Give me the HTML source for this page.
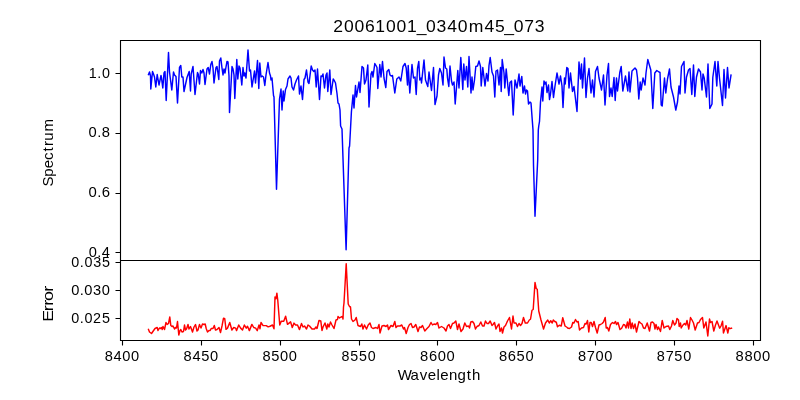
<!DOCTYPE html><html><head><meta charset="utf-8"><style>html,body{margin:0;padding:0;background:#fff;width:800px;height:400px;overflow:hidden}</style></head><body><svg width="800" height="400" viewBox="0 0 800 400" style="display:block;will-change:transform"><rect width="800" height="400" fill="#fff"/><g font-family='"Liberation Sans", sans-serif' fill="#000"><defs><clipPath id="c1"><rect x="120" y="40" width="640" height="220"/></clipPath><clipPath id="c2"><rect x="120" y="260" width="640" height="80"/></clipPath></defs><path clip-path="url(#c1)" d="M148.50,74.50 L149.50,72.00 L150.50,76.00 L150.80,89.00 L152.50,71.50 L153.50,74.00 L154.50,77.00 L155.80,87.00 L157.20,74.50 L159.00,85.00 L161.00,75.50 L161.50,78.00 L162.80,88.00 L164.00,73.00 L165.00,71.50 L166.20,100.50 L168.50,52.50 L169.50,72.00 L171.80,90.00 L173.50,72.00 L174.50,75.00 L176.00,76.50 L177.50,103.00 L179.50,67.50 L180.80,65.50 L181.80,77.00 L183.00,77.00 L184.00,91.50 L187.00,77.50 L189.20,71.50 L190.50,91.00 L191.20,74.00 L193.00,66.50 L195.00,94.50 L197.50,72.50 L198.20,74.00 L199.50,84.00 L200.50,70.50 L201.80,73.00 L203.00,69.50 L204.00,73.00 L205.00,84.50 L207.00,69.00 L208.20,67.50 L209.50,74.00 L210.80,64.50 L212.00,61.50 L213.00,68.00 L214.00,83.00 L216.00,67.50 L217.00,66.50 L217.80,72.00 L218.80,79.50 L219.50,61.00 L220.80,58.00 L222.00,68.00 L223.00,75.00 L224.00,69.00 L225.00,73.00 L226.00,67.00 L227.00,61.50 L228.00,62.00 L229.00,76.00 L229.50,112.50 L232.00,66.50 L233.00,69.00 L234.00,75.00 L234.80,98.50 L236.80,59.50 L237.80,79.00 L239.00,66.00 L240.00,68.00 L241.80,85.00 L243.00,67.50 L244.00,76.00 L244.80,73.00 L246.00,78.00 L248.00,50.00 L249.50,71.00 L250.50,70.00 L252.00,87.00 L254.50,71.00 L255.50,83.00 L257.50,60.50 L258.80,88.50 L259.80,63.00 L261.00,77.00 L262.20,76.00 L263.50,77.00 L264.80,85.50 L266.00,75.00 L268.00,62.50 L269.50,73.00 L270.50,76.00 L271.00,80.00 L272.00,78.00 L273.50,95.50 L274.00,97.00 L276.50,189.20 L279.50,99.00 L281.00,89.00 L282.00,110.00 L283.20,91.00 L284.00,101.00 L285.50,89.50 L287.00,86.00 L288.00,79.00 L290.00,76.00 L291.00,78.00 L292.00,87.00 L293.50,90.00 L295.00,84.00 L296.50,80.00 L298.50,76.00 L299.50,94.00 L301.00,86.00 L302.50,99.50 L304.00,79.50 L305.00,78.00 L306.50,70.00 L308.00,82.00 L309.00,83.50 L311.20,66.00 L312.50,70.00 L313.80,71.50 L315.00,70.00 L316.20,87.00 L317.50,69.00 L319.50,99.50 L321.00,76.00 L322.00,76.50 L323.00,74.00 L324.50,88.00 L326.00,75.00 L327.00,73.00 L327.80,91.50 L329.80,70.00 L331.00,94.50 L333.20,79.00 L334.50,81.00 L335.50,83.00 L337.00,93.50 L338.00,103.00 L339.00,104.00 L340.00,110.00 L340.60,126.00 L342.00,129.00 L346.10,249.80 L349.00,148.00 L349.60,146.00 L351.40,112.00 L353.00,95.00 L354.00,108.00 L355.50,85.50 L356.50,97.00 L359.00,82.00 L360.00,92.50 L362.00,66.50 L363.50,68.00 L364.50,84.00 L366.00,80.00 L367.80,65.00 L369.00,107.00 L371.00,74.00 L372.00,71.50 L373.00,77.00 L374.80,63.50 L376.00,65.50 L377.00,67.50 L377.80,88.50 L379.80,64.50 L381.00,77.00 L382.50,61.50 L384.00,78.00 L385.80,87.50 L387.00,71.50 L388.80,69.50 L390.00,75.00 L391.20,76.00 L392.50,75.50 L394.80,93.00 L396.80,79.00 L399.00,77.00 L400.80,81.00 L403.00,66.50 L405.00,63.50 L406.20,68.00 L407.50,85.00 L408.20,65.50 L409.80,93.00 L412.00,64.50 L413.50,78.00 L415.00,77.00 L416.20,94.50 L417.50,68.50 L418.80,61.50 L419.80,80.00 L421.00,78.00 L421.50,83.00 L424.00,60.00 L425.50,80.00 L427.80,86.50 L429.00,72.00 L431.50,90.50 L433.50,67.50 L435.00,104.50 L437.00,96.00 L438.50,75.00 L439.80,68.50 L441.50,73.00 L443.00,85.00 L444.00,57.00 L445.50,68.00 L446.80,69.00 L447.50,78.00 L448.80,86.50 L450.00,66.00 L451.50,81.00 L452.50,85.00 L454.00,82.00 L455.20,104.00 L457.80,70.50 L459.00,88.00 L460.80,57.50 L462.80,89.50 L463.80,64.00 L465.00,80.00 L466.50,66.50 L467.80,87.00 L469.00,56.50 L471.00,93.00 L472.00,77.00 L473.00,90.00 L474.50,80.00 L475.80,66.50 L477.50,66.00 L479.00,61.00 L480.50,66.50 L481.20,86.00 L482.80,67.50 L485.00,86.00 L486.50,73.50 L488.00,81.00 L489.00,65.50 L490.20,57.50 L492.00,72.00 L493.50,76.00 L494.80,97.00 L496.00,71.00 L497.50,70.00 L499.00,85.00 L500.50,67.50 L501.20,91.50 L502.20,59.50 L504.00,73.00 L504.80,88.00 L506.20,69.00 L508.80,95.50 L510.00,82.50 L511.50,81.00 L513.20,115.00 L515.00,80.00 L517.00,88.00 L519.00,74.00 L520.00,86.00 L521.80,76.50 L523.00,93.00 L524.50,86.00 L525.50,94.00 L526.50,90.00 L527.50,91.00 L528.50,104.00 L530.00,102.00 L531.00,103.00 L533.00,130.00 L533.50,165.00 L535.00,216.25 L537.70,160.00 L538.30,130.00 L538.75,126.00 L539.50,121.50 L540.50,102.00 L542.00,87.00 L542.80,101.00 L544.00,81.00 L545.00,84.00 L546.00,82.00 L547.00,92.50 L548.50,85.00 L549.50,99.50 L550.50,94.00 L552.00,81.50 L553.50,97.50 L555.00,86.00 L557.00,73.00 L559.00,84.00 L560.50,76.00 L562.00,86.00 L563.00,107.50 L564.50,78.00 L565.20,84.00 L566.80,67.50 L568.00,68.50 L569.00,88.00 L570.50,73.00 L572.50,91.50 L574.00,86.50 L577.00,111.50 L579.00,62.00 L580.50,79.00 L581.50,64.00 L582.50,88.00 L584.50,58.00 L586.00,97.50 L587.50,78.00 L589.00,68.50 L590.00,81.00 L591.00,93.00 L592.50,80.00 L594.00,97.00 L595.50,71.50 L597.50,66.50 L599.00,78.00 L600.50,85.00 L601.50,90.00 L603.50,75.00 L605.00,105.00 L607.00,75.00 L608.50,63.50 L609.50,96.50 L611.00,88.00 L612.20,96.50 L614.00,77.50 L615.20,100.50 L616.50,78.00 L617.50,91.00 L619.80,72.50 L621.20,66.50 L622.80,91.00 L625.50,76.00 L627.80,91.00 L629.00,72.00 L630.00,92.00 L632.00,71.00 L635.00,68.00 L636.50,70.00 L637.50,78.00 L638.80,99.00 L640.20,82.00 L641.20,90.00 L643.00,78.00 L645.00,85.00 L646.00,73.00 L647.80,59.50 L649.50,65.50 L650.80,70.00 L652.80,108.50 L654.80,73.00 L656.80,70.50 L659.00,72.00 L660.00,72.50 L661.20,105.00 L662.20,106.00 L664.50,78.00 L665.80,93.00 L667.50,79.00 L669.50,69.00 L671.00,87.00 L673.50,97.00 L675.80,110.00 L677.50,102.00 L679.00,86.00 L680.00,94.00 L681.50,66.50 L684.00,61.50 L685.00,93.00 L686.50,77.00 L688.50,70.00 L690.00,68.50 L691.80,94.50 L693.50,65.00 L694.80,96.50 L696.50,77.00 L698.50,69.00 L700.50,72.00 L702.00,90.00 L703.00,74.00 L704.20,78.00 L706.50,97.00 L708.00,64.00 L709.80,108.50 L712.00,104.00 L712.80,77.50 L715.00,61.50 L716.80,86.00 L718.00,61.50 L719.50,78.00 L722.50,105.50 L724.00,69.50 L725.50,98.00 L727.50,67.50 L729.00,88.00 L731.00,75.00" fill="none" stroke="#0000ff" stroke-width="1.45" stroke-linejoin="round" stroke-linecap="square"/><path clip-path="url(#c2)" d="M148.50,329.50 L149.50,332.00 L151.50,333.50 L155.00,328.50 L157.20,327.50 L158.00,330.50 L159.50,328.00 L160.50,328.50 L161.50,327.50 L162.20,329.50 L163.00,326.50 L164.50,329.50 L166.00,322.50 L167.20,324.50 L168.50,323.50 L169.80,317.00 L170.80,325.50 L172.00,326.50 L173.00,326.00 L174.50,329.00 L175.50,327.50 L176.50,328.00 L177.50,321.50 L178.80,335.00 L180.00,330.50 L180.80,329.50 L182.00,332.00 L183.50,331.50 L184.50,325.00 L185.50,330.00 L186.50,329.00 L188.00,324.50 L189.00,329.00 L190.50,326.50 L192.50,332.00 L194.00,327.00 L195.50,324.50 L197.00,331.00 L198.00,330.00 L199.50,324.50 L201.00,328.00 L202.50,324.00 L204.00,324.50 L205.20,324.00 L206.20,328.50 L207.50,332.00 L209.00,330.50 L210.20,330.50 L211.20,328.50 L213.00,328.50 L214.30,325.50 L215.50,330.00 L217.00,329.50 L219.00,327.50 L220.50,332.50 L222.00,326.00 L223.50,318.12 L224.75,318.75 L226.00,329.38 L227.50,328.12 L229.75,322.50 L231.88,330.00 L233.75,327.50 L235.62,328.12 L236.50,330.62 L238.75,325.00 L240.62,328.12 L242.50,330.00 L244.38,325.00 L246.25,328.12 L247.50,326.25 L249.38,330.62 L251.88,324.38 L253.75,327.50 L255.62,328.12 L257.25,330.62 L259.00,325.00 L260.00,328.75 L261.00,322.50 L263.12,325.62 L266.25,325.62 L268.12,326.88 L270.00,326.25 L272.50,325.00 L274.00,328.75 L275.00,296.88 L276.00,298.75 L276.88,293.12 L277.75,300.00 L279.75,325.00 L281.25,321.25 L283.75,321.25 L285.62,316.25 L287.50,324.38 L290.62,321.88 L292.25,327.50 L294.00,323.12 L295.62,325.00 L297.50,325.00 L299.38,329.38 L299.50,329.50 L301.50,323.50 L303.00,327.00 L304.50,326.00 L306.50,329.00 L308.00,325.00 L309.50,326.00 L312.00,329.00 L314.50,329.00 L316.00,327.00 L317.00,328.50 L319.00,320.50 L320.80,321.00 L322.00,330.50 L323.00,327.00 L325.00,323.00 L326.80,329.00 L327.80,324.00 L329.00,327.00 L330.50,322.00 L332.00,325.00 L334.00,328.50 L336.00,320.00 L337.50,319.50 L338.00,316.50 L339.50,318.00 L341.00,317.00 L342.50,316.50 L343.00,319.00 L343.50,307.00 L344.00,303.00 L346.20,263.70 L348.20,304.00 L349.50,306.50 L350.50,307.00 L351.50,319.00 L353.00,321.50 L355.00,320.00 L356.20,317.50 L358.00,325.50 L360.50,326.50 L361.80,324.00 L363.00,329.00 L364.50,325.00 L366.50,329.00 L368.20,325.00 L370.00,323.00 L371.50,327.50 L373.00,328.50 L374.50,328.00 L376.00,327.50 L377.50,328.50 L379.00,324.50 L380.00,333.00 L382.00,326.00 L384.00,325.50 L386.00,326.50 L387.50,325.00 L388.50,329.50 L391.00,325.50 L393.00,326.50 L394.80,321.50 L396.00,327.50 L397.50,326.00 L400.00,326.00 L401.80,325.00 L403.50,329.00 L404.50,327.50 L406.20,333.50 L408.00,327.50 L409.50,324.50 L411.00,323.50 L412.50,327.50 L414.00,327.00 L415.80,324.50 L418.00,331.50 L419.50,327.00 L421.00,327.50 L422.50,325.50 L424.80,331.00 L427.00,328.50 L429.00,326.50 L431.00,322.50 L432.50,325.00 L434.00,324.00 L435.80,324.50 L437.50,322.50 L439.00,328.00 L441.50,326.50 L444.00,328.00 L446.00,331.00 L447.50,326.00 L449.00,324.50 L450.50,328.50 L452.50,323.50 L454.00,323.00 L455.80,321.00 L457.50,329.50 L459.00,324.00 L461.00,331.50 L463.00,329.00 L464.80,323.00 L466.50,326.50 L468.50,326.00 L469.50,328.00 L470.80,322.00 L472.50,321.50 L474.00,323.50 L475.50,329.00 L477.00,326.50 L479.00,325.50 L480.80,322.00 L482.50,326.00 L484.00,326.00 L485.50,321.00 L487.00,323.50 L488.50,323.50 L490.20,321.00 L492.00,325.50 L493.00,324.50 L494.50,322.50 L496.00,329.00 L497.50,326.00 L499.00,324.00 L500.00,331.50 L501.50,328.00 L502.50,333.00 L504.00,327.00 L505.50,325.50 L507.50,321.00 L509.50,317.50 L511.50,329.00 L513.00,316.00 L514.00,323.00 L516.00,323.00 L517.50,326.50 L519.00,323.50 L520.50,325.50 L522.00,323.50 L523.50,317.50 L525.25,323.00 L527.50,323.00 L529.30,320.00 L530.50,319.25 L532.00,310.25 L533.20,309.50 L535.00,282.50 L536.20,288.50 L537.25,289.25 L538.75,311.00 L541.00,320.00 L543.55,329.00 L545.50,323.00 L547.75,320.00 L549.25,323.00 L550.75,320.75 L552.25,323.00 L553.30,320.00 L554.80,321.50 L556.30,322.25 L557.50,326.75 L559.30,325.25 L561.25,326.00 L562.75,317.75 L565.00,326.00 L567.25,327.50 L567.50,328.00 L569.50,328.50 L571.50,327.00 L572.80,322.50 L574.00,323.00 L575.50,319.50 L577.00,322.00 L578.20,321.50 L579.50,330.00 L581.50,328.00 L583.50,327.50 L585.00,323.50 L586.20,324.00 L587.50,320.50 L588.80,332.00 L590.00,322.50 L591.20,322.50 L592.50,326.50 L594.00,321.50 L595.50,327.50 L597.20,333.00 L599.00,325.00 L600.50,324.50 L602.20,323.50 L603.50,322.00 L605.20,317.50 L606.20,328.00 L607.50,327.50 L608.80,331.00 L610.50,324.50 L612.50,322.50 L614.00,323.50 L615.50,321.50 L616.50,324.50 L618.00,322.50 L620.00,329.50 L621.50,328.50 L623.50,324.50 L624.80,325.00 L626.00,328.00 L627.50,322.00 L628.50,328.00 L629.80,319.00 L631.00,328.50 L632.20,323.00 L633.50,328.50 L635.00,324.00 L636.50,332.00 L639.00,321.50 L640.50,323.00 L642.00,324.00 L643.50,328.00 L645.00,328.50 L647.20,323.00 L649.50,331.00 L651.00,322.50 L652.50,322.00 L654.00,323.50 L655.00,329.00 L656.00,324.50 L657.50,329.50 L658.50,327.00 L660.50,331.50 L662.20,320.50 L664.00,328.00 L666.00,326.50 L668.50,326.00 L669.80,329.50 L671.50,326.00 L672.80,320.50 L674.50,325.00 L676.00,323.00 L677.00,318.50 L678.50,320.00 L679.20,326.50 L680.50,323.00 L681.20,328.00 L683.00,325.00 L684.50,323.50 L685.80,325.00 L687.00,320.50 L688.80,329.00 L690.50,317.50 L692.00,320.00 L693.50,323.00 L695.20,330.00 L697.50,323.00 L699.00,322.50 L700.50,319.50 L702.50,317.50 L703.80,328.00 L706.00,322.00 L707.80,336.00 L709.50,319.00 L710.50,322.50 L712.00,321.50 L713.80,331.00 L715.50,325.00 L717.00,321.00 L719.69,328.19 L721.00,326.00 L722.57,321.19 L723.45,333.00 L726.07,325.56 L727.82,333.00 L728.87,327.75 L730.19,328.62 L731.50,328.19" fill="none" stroke="#ff0000" stroke-width="1.45" stroke-linejoin="round" stroke-linecap="square"/><g stroke="#000" stroke-width="1.11" fill="none" stroke-linecap="square"><path d="M120.5,40.5 H760.5 V340.5 H120.5 Z M120.5,260.5 H760.5"/><path stroke-linecap="butt" d="M122.50,340.5 V345.5 M201.50,340.5 V345.5 M280.50,340.5 V345.5 M359.50,340.5 V345.5 M437.50,340.5 V345.5 M516.50,340.5 V345.5 M595.50,340.5 V345.5 M674.50,340.5 V345.5 M753.50,340.5 V345.5 M120.5,73.50 H115.5 M120.5,133.50 H115.5 M120.5,193.50 H115.5 M120.5,252.50 H115.5 M120.5,262.50 H115.5 M120.5,290.50 H115.5 M120.5,318.50 H115.5"/></g><text transform="translate(332.94,31.93) scale(1.0087,1)" x="0.19 10.94 21.35 31.76 42.08 52.70 63.11 73.43 82.97 92.35 102.79 113.30 123.71 134.54 150.22 160.57 169.95 179.34 189.72 200.19" y="0" font-size="17.42">20061001_0340m45_073</text><text transform="translate(104.38,360.72) scale(0.9949,1)" x="0.35 9.26 18.06 26.86" y="0" font-size="14.72">8400</text><text transform="translate(183.24,360.72) scale(0.9949,1)" x="0.35 9.26 18.01 26.86" y="0" font-size="14.72">8450</text><text transform="translate(262.10,360.72) scale(0.9948,1)" x="0.35 9.21 18.06 26.86" y="0" font-size="14.72">8500</text><text transform="translate(340.96,360.72) scale(0.9669,1)" x="0.47 9.60 18.65 27.75" y="0" font-size="14.72">8550</text><text transform="translate(419.76,360.72) scale(1.0002,1)" x="0.32 9.19 18.07 26.82" y="0" font-size="14.72">8600</text><text transform="translate(498.62,360.72) scale(1.0002,1)" x="0.32 9.19 18.01 26.82" y="0" font-size="14.72">8650</text><text transform="translate(577.54,360.72) scale(0.9948,1)" x="0.35 9.24 18.06 26.86" y="0" font-size="14.72">8700</text><text transform="translate(656.40,360.72) scale(0.9840,1)" x="0.39 9.39 18.25 27.20" y="0" font-size="14.72">8750</text><text transform="translate(735.20,360.72) scale(1.0002,1)" x="0.32 9.19 18.07 26.82" y="0" font-size="14.72">8800</text><text transform="translate(88.40,256.75) scale(0.9949,1)" x="0.35 8.96 13.54" y="0" font-size="14.72">0.4</text><text transform="translate(88.28,197.08) scale(1.0122,1)" x="0.27 8.77 13.24" y="0" font-size="14.72">0.6</text><text transform="translate(88.28,137.42) scale(1.0002,1)" x="0.32 8.90 13.44" y="0" font-size="14.72">0.8</text><text transform="translate(88.28,77.75) scale(0.9725,1)" x="0.38 9.34 14.07" y="0" font-size="14.72">1.0</text><text transform="translate(70.90,322.65) scale(0.9769,1)" x="0.43 9.17 13.86 22.63 31.72" y="0" font-size="14.72">0.025</text><text transform="translate(70.90,294.75) scale(0.9948,1)" x="0.35 8.96 13.54 22.35 31.13" y="0" font-size="14.72">0.030</text><text transform="translate(70.90,266.85) scale(0.9751,1)" x="0.44 9.19 13.89 22.89 31.79" y="0" font-size="14.72">0.035</text><text transform="translate(398.00,380.28) scale(1.0336,1)" x="-0.21 12.02 21.15 28.91 37.26 40.88 49.23 57.60 66.61 71.58" y="0" font-size="14.51">Wavelength</text><text transform="translate(53.00,185.88) rotate(-90) scale(1.0374,1)" x="-0.52 8.73 17.10 25.07 33.11 38.42 43.56 52.33" y="0" font-size="14.51">Spectrum</text><text transform="translate(53.00,320.00) rotate(-90) scale(1.2261,1)" x="-1.35 7.20 11.69 15.54 23.11" y="0" font-size="14.51">Error</text></g></svg></body></html>
